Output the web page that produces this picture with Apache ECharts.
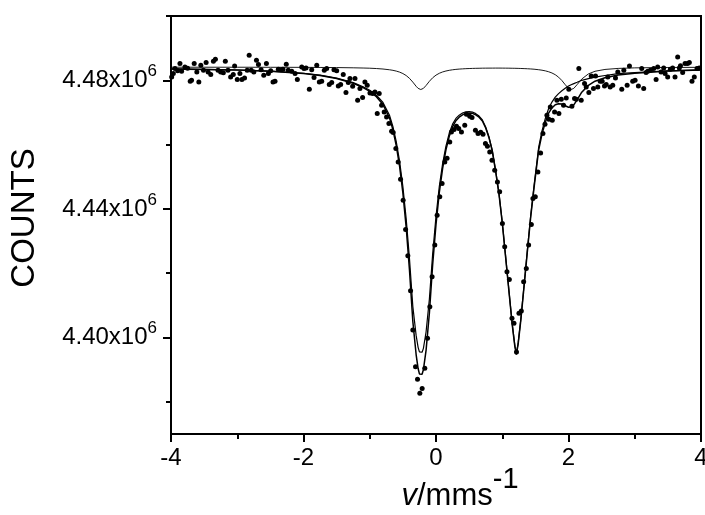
<!DOCTYPE html>
<html>
<head>
<meta charset="utf-8">
<script src="https://cdn.jsdelivr.net/npm/echarts@6.0.0/dist/echarts.min.js"></script>
<style>
  html, body { margin: 0; padding: 0; background: #fff; }
  #chart { width: 705px; height: 515px; }
</style>
</head>
<body>
<div id="chart"></div>
<script>
// ---- axis ticks / labels ----
const xTickLabels = [-4, -2, 0, 2, 4];
const yMajorTicks = [4400000, 4440000, 4480000];
const yMinorTicks = [4380000, 4420000, 4460000, 4500000];

// ---- measured spectrum (velocity mm/s, counts) ----
const scatterV = [
  -3.99, -3.965, -3.94, -3.90, -3.865, -3.84, -3.79, -3.75, -3.71, -3.69,
  -3.65, -3.61, -3.58, -3.55, -3.51, -3.47, -3.44, -3.40, -3.36, -3.33,
  -3.29, -3.25, -3.21, -3.18, -3.14, -3.10, -3.06, -3.04, -3.00, -2.96,
  -2.93, -2.89, -2.85, -2.82, -2.79, -2.75, -2.71, -2.68, -2.64, -2.60,
  -2.56, -2.53, -2.495, -2.46, -2.43, -2.38, -2.34, -2.31, -2.26, -2.23,
  -2.177, -2.127, -2.093, -2.026, -1.992, -1.962, -1.912, -1.876, -1.841, -1.800,
  -1.761, -1.725, -1.686, -1.650, -1.611, -1.574, -1.540, -1.499, -1.475, -1.439,
  -1.400, -1.359, -1.324, -1.299, -1.258, -1.223, -1.183, -1.148, -1.108, -1.073,
  -1.038, -0.997, -0.957, -0.922, -0.887, -0.857, -0.821, -0.782, -0.746, -0.711,
  -0.670, -0.646,
  -0.606, -0.571, -0.535, -0.496, -0.459, -0.425, -0.384, -0.350, -0.309, -0.279,
  -0.244, -0.209, -0.169, -0.128, -0.093, -0.059, -0.018, 0.017, 0.057, 0.092,
  0.133, 0.167, 0.208, 0.233, 0.273, 0.309, 0.343, 0.384, 0.434,
  0.459, 0.509, 0.544, 0.595, 0.634, 0.675, 0.710, 0.746, 0.776, 0.811,
  0.845, 0.886, 0.927, 0.961, 1.002, 1.037, 1.071, 1.107, 1.147, 1.177,
  1.215, 1.252, 1.288, 1.323, 1.363, 1.398, 1.439, 1.463, 1.499, 1.538,
  1.579, 1.614, 1.645,
  1.674, 1.704, 1.725, 1.755, 1.790, 1.825, 1.855, 1.891, 1.925, 1.966,
  2.005, 2.051, 2.091, 2.117, 2.156, 2.192, 2.242, 2.267, 2.307, 2.343,
  2.377, 2.408, 2.442, 2.478, 2.508, 2.543, 2.569, 2.593, 2.629, 2.668,
  2.709, 2.744,
  2.804, 2.835, 2.885, 2.920, 2.969, 3.005, 3.055, 3.105, 3.135, 3.171,
  3.196, 3.236, 3.286, 3.322, 3.346, 3.397, 3.437, 3.458, 3.497, 3.537,
  3.572, 3.608, 3.648, 3.673, 3.690, 3.723, 3.759, 3.798, 3.824, 3.864,
  3.899, 3.940, 3.974
];
const scatterCounts = [
  4481030, 4482080, 4483640, 4482950, 4485190, 4482800, 4484130, 4483730, 4479690, 4480000,
  4485190, 4482580, 4479470, 4484660, 4483110, 4485500, 4482580, 4481770, 4485900, 4486520,
  4483110, 4482580, 4482330, 4485900, 4483110, 4481030, 4481770, 4484440, 4480220, 4482080,
  4480220, 4480710, 4483110, 4487770, 4483110, 4482580, 4486210, 4484880, 4483320, 4481550,
  4485190, 4482080, 4482950, 4479470, 4479690, 4483420, 4483320, 4483420, 4484970, 4483110,
  4482800, 4482080, 4480220, 4484130, 4483640, 4483820, 4477200, 4483320, 4480840, 4484660,
  4479470, 4479690, 4483110, 4483640, 4478660, 4479290, 4483320, 4483010, 4478230, 4478660,
  4481770, 4476180, 4479290, 4480530, 4478140, 4480530, 4473790, 4477420, 4474630, 4479470,
  4478450, 4476060, 4475870, 4476370, 4469660, 4475870, 4472240, 4470150, 4468600, 4466550,
  4464160, 4463760,
  4458790, 4454630, 4449250, 4442730, 4433630, 4425430, 4414560, 4402350, 4390950, 4387040,
  4382690, 4384120, 4390450, 4399770, 4409590, 4418910, 4428750, 4438070, 4443750, 4447920,
  4454630, 4455770, 4460840, 4463940, 4464690, 4465710, 4465000, 4463940, 4466020,
  4469440, 4468820, 4468410, 4464470, 4463450, 4463850, 4463230, 4460340, 4459500, 4457730,
  4455150, 4452050, 4448410, 4445310, 4435490, 4428220, 4420460, 4418040, 4405980, 4404430,
  4395520, 4407540, 4408250, 4417350, 4421510, 4428750, 4435180, 4443260, 4443750, 4451520,
  4457420, 4463450, 4466330,
  4469130, 4467890, 4471710, 4467580, 4470150, 4473790, 4469660, 4474100, 4472240, 4474500,
  4477210, 4471920, 4474320, 4474100, 4483640, 4473790, 4478980, 4477920, 4476180, 4481340,
  4477420, 4481340, 4477920, 4479690, 4479690, 4478230, 4478660, 4481030, 4477920, 4478450,
  4480710, 4482580,
  4477210, 4483110, 4478450, 4484440, 4479690, 4480000, 4478230, 4483640, 4477420, 4482390,
  4482800, 4483110, 4483640, 4480220, 4484130, 4482580, 4483820, 4482080, 4481030, 4483420,
  4483820, 4481030, 4487240, 4483820, 4484500, 4482390, 4485190, 4485190, 4485500, 4479690,
  4481030, 4483640, 4483820
];

// ---- fitted curves ----
const fitV = [
  -4, -3.5, -3, -2.5, -2, -1.75, -1.5, -1.25, -1.1, -1.0,
  -0.9, -0.8, -0.7, -0.65, -0.6, -0.55, -0.5, -0.45, -0.4, -0.35,
  -0.3, -0.27, -0.25, -0.23, -0.21, -0.19, -0.15, -0.1, -0.05, 0,
  0.05, 0.1, 0.15, 0.2, 0.25, 0.3, 0.35, 0.4, 0.45, 0.5,
  0.55, 0.6, 0.65, 0.7, 0.75, 0.8, 0.85, 0.9, 0.95, 1.0,
  1.05, 1.1, 1.15, 1.19, 1.213, 1.24, 1.28, 1.33, 1.38, 1.43,
  1.48, 1.55, 1.6, 1.65, 1.7, 1.75, 1.8, 1.85, 1.9, 1.95,
  2.0, 2.04, 2.08, 2.13, 2.2, 2.3, 2.4, 2.55, 2.75, 3.0,
  3.5, 4.0
];
// total fit
const fitTotal = [
  4483550, 4483400, 4483170, 4482800, 4482120, 4481510, 4480550, 4479080, 4477710, 4476540,
  4474910, 4472500, 4468210, 4464580, 4459680, 4453300, 4444970, 4434280, 4420890, 4405080,
  4394710, 4390360, 4388680, 4388090, 4388560, 4390020, 4396010, 4407570, 4422820, 4435180,
  4445120, 4452640, 4458350, 4462610, 4465530, 4467420, 4468540, 4469250, 4469720, 4469840,
  4469720, 4469250, 4468540, 4467330, 4465180, 4462110, 4457920, 4451670, 4444690, 4435710,
  4425180, 4414560, 4404060, 4397230, 4394680, 4397940, 4405300, 4416020, 4426950, 4437570,
  4446610, 4458410, 4463290, 4466960, 4469810, 4471400, 4472420, 4472730, 4472610, 4472080,
  4471610, 4471680, 4472360, 4473940, 4476300, 4478420, 4479720, 4480780, 4481650, 4482190,
  4482860, 4483230
];
// main doublet
const fitMain = [
  4483570, 4483430, 4483210, 4482850, 4482200, 4481610, 4480690, 4479290, 4477990, 4476890,
  4475350, 4473090, 4469040, 4465590, 4460910, 4454850, 4446970, 4436900, 4424400, 4409740,
  4400670, 4396950, 4395550, 4395050, 4395420, 4396640, 4401730, 4411980, 4426140, 4437700,
  4447010, 4454130, 4459560, 4463600, 4466370, 4468140, 4469160, 4469810, 4470220, 4470280,
  4470120, 4469630, 4468880, 4467670, 4465500, 4462420, 4458230, 4451980, 4444990, 4436020,
  4425490, 4414900, 4404400, 4397600, 4395050, 4398340, 4405710, 4416480, 4427450, 4438130,
  4447260, 4459220, 4464250, 4468140, 4471240, 4473230, 4474780, 4475870, 4476770, 4477520,
  4478230, 4478630, 4478980, 4479380, 4480000, 4480530, 4481010, 4481490, 4482050, 4482420,
  4482960, 4483290
];
// minor doublet
const fitMinor = [
  4484080, 4484070, 4484070, 4484050, 4484030, 4484000, 4483960, 4483890, 4483820, 4483760,
  4483660, 4483510, 4483270, 4483100, 4482870, 4482550, 4482100, 4481480, 4480600, 4479440,
  4478140, 4477500, 4477240, 4477140, 4477230, 4477490, 4478390, 4479690, 4480800, 4481610,
  4482190, 4482600, 4482890, 4483110, 4483270, 4483400, 4483490, 4483560, 4483620, 4483660,
  4483700, 4483730, 4483750, 4483770, 4483780, 4483790, 4483790, 4483800, 4483800, 4483790,
  4483780, 4483770, 4483750, 4483740, 4483720, 4483710, 4483680, 4483640, 4483590, 4483530,
  4483450, 4483290, 4483140, 4482940, 4482660, 4482280, 4481740, 4480980, 4479940, 4478650,
  4477490, 4477140, 4477500, 4478660, 4480400, 4481990, 4482810, 4483380, 4483700, 4483870,
  4483990, 4484040
];

const FONT = "'Liberation Sans', Arial, sans-serif";
const chart = echarts.init(document.getElementById('chart'), null, { renderer: 'canvas' });

const pairs = (xs, ys) => xs.map((x, i) => [x, ys[i]]);

const option = {
  animation: false,
  backgroundColor: '#fff',
  grid: {
    left: 171, right: 4, top: 16, bottom: 81,
    containLabel: false,
    outerBoundsMode: 'none',
    show: true, borderColor: '#000', borderWidth: 2, backgroundColor: 'transparent'
  },
  xAxis: {
    type: 'value', min: -4, max: 4, interval: 2,
    axisLine: { show: true, onZero: false, lineStyle: { color: '#000', width: 2 } },
    axisTick: { show: true, length: 8, lineStyle: { color: '#000', width: 2 } },
    minorTick: { show: true, splitNumber: 2, length: 5, lineStyle: { color: '#000', width: 2 } },
    splitLine: { show: false },
    axisLabel: {
      customValues: xTickLabels,
      fontSize: 24, color: '#000', fontFamily: FONT, margin: 12,
      formatter: v => String(v)
    },
    name: '{i|v}{n|/mms}{s|-1}',
    nameLocation: 'middle',
    nameGap: 31,
    nameMoveOverlap: false,
    nameTextStyle: {
      color: '#000', fontFamily: FONT, fontSize: 31,
      padding: [0, 0, 0, 48],
      rich: {
        i: { fontSize: 31, fontStyle: 'italic', fontFamily: FONT, color: '#000' },
        n: { fontSize: 31, fontFamily: FONT, color: '#000' },
        s: { fontSize: 29, fontFamily: FONT, color: '#000', padding: [0, 0, 34, 0] }
      }
    }
  },
  yAxis: [
    {
      type: 'value', min: 4370000, max: 4500000, position: 'left',
      axisLine: { show: true, onZero: false, lineStyle: { color: '#000', width: 2 } },
      axisTick: { show: true, customValues: yMajorTicks, length: 8, lineStyle: { color: '#000', width: 2 } },
      splitLine: { show: false },
      axisLabel: {
        customValues: yMajorTicks,
        margin: 14, color: '#000', fontFamily: FONT, fontSize: 24,
        formatter: v => '{m|' + (v / 1e6).toFixed(2) + 'x10}{s|6}',
        rich: {
          m: { fontSize: 24, fontFamily: FONT, color: '#000' },
          s: { fontSize: 17, fontFamily: FONT, color: '#000', padding: [0, 0, 18, 0] }
        }
      },
      name: 'COUNTS',
      nameLocation: 'middle',
      nameRotate: 90,
      nameGap: 130,
      nameMoveOverlap: false,
      nameTextStyle: { color: '#000', fontFamily: FONT, fontSize: 33, padding: [0, 0, 0, 14] }
    },
    {
      type: 'value', min: 4370000, max: 4500000, position: 'left',
      axisLine: { show: false, onZero: false },
      axisTick: { show: true, customValues: yMinorTicks, length: 5, lineStyle: { color: '#000', width: 2 } },
      axisLabel: { show: false },
      splitLine: { show: false }
    }
  ],
  series: [
    {
      type: 'line', name: 'minor doublet', data: pairs(fitV, fitMinor),
      showSymbol: false, symbol: 'none', yAxisIndex: 0,
      lineStyle: { color: '#000', width: 0.9 }, z: 2
    },
    {
      type: 'line', name: 'main doublet', data: pairs(fitV, fitMain),
      showSymbol: false, symbol: 'none', yAxisIndex: 0,
      lineStyle: { color: '#000', width: 1.2 }, z: 3
    },
    {
      type: 'line', name: 'total fit', data: pairs(fitV, fitTotal),
      showSymbol: false, symbol: 'none', yAxisIndex: 0,
      lineStyle: { color: '#000', width: 1.5 }, z: 4
    },
    {
      type: 'scatter', name: 'data', data: pairs(scatterV, scatterCounts),
      yAxisIndex: 0, symbol: 'circle', symbolSize: 5,
      itemStyle: { color: '#000', opacity: 1 }, z: 5
    }
  ]
};
chart.setOption(option);
</script>
</body>
</html>
